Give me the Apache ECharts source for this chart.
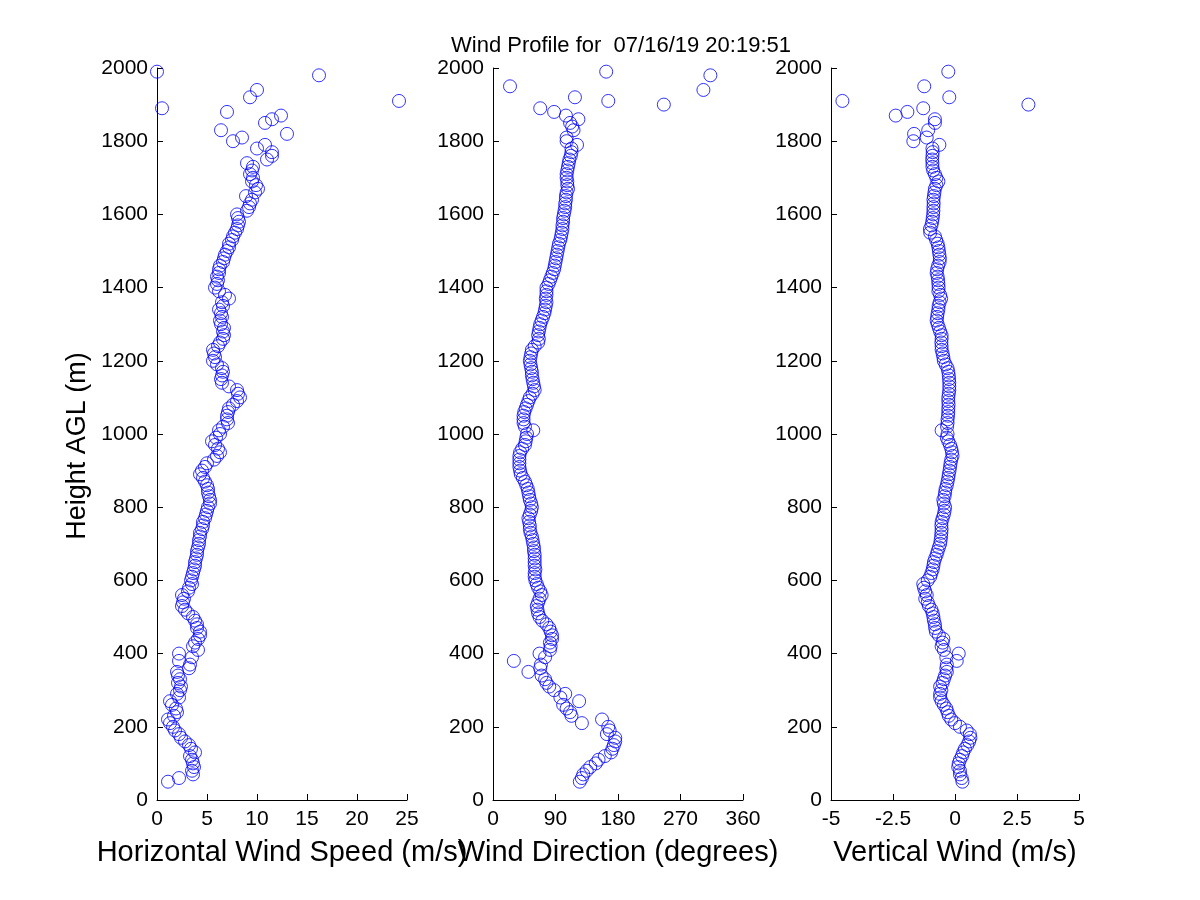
<!DOCTYPE html>
<html>
<head>
<meta charset="utf-8">
<title>Wind Profile</title>
<script src="https://cdn.jsdelivr.net/npm/echarts@6/dist/echarts.min.js"></script>
<style>
  html, body { margin: 0; padding: 0; background: #fff; }
  #chart { width: 1200px; height: 900px; }
</style>
</head>
<body>
<div id="chart"></div>
<script>
// range gates (m AGL)
var heights = [
  50, 60, 70, 80, 90, 100, 110, 120, 130, 140,
  150, 160, 170, 180, 190, 200, 210, 220, 230, 240,
  250, 260, 270, 280, 290, 300, 310, 320, 330, 340,
  350, 360, 370, 380, 390, 400, 410, 420, 430, 440,
  450, 460, 470, 480, 490, 500, 510, 520, 530, 540,
  550, 560, 570, 580, 590, 600, 610, 620, 630, 640,
  650, 660, 670, 680, 690, 700, 710, 720, 730, 740,
  750, 760, 770, 780, 790, 800, 810, 820, 830, 840,
  850, 860, 870, 880, 890, 900, 910, 920, 930, 940,
  950, 960, 970, 980, 990, 1000, 1010, 1020, 1030, 1040,
  1050, 1060, 1070, 1080, 1090, 1100, 1110, 1120, 1130, 1140,
  1150, 1160, 1170, 1180, 1190, 1200, 1210, 1220, 1230, 1240,
  1250, 1260, 1270, 1280, 1290, 1300, 1310, 1320, 1330, 1340,
  1350, 1360, 1370, 1380, 1390, 1400, 1410, 1420, 1430, 1440,
  1450, 1460, 1470, 1480, 1490, 1500, 1510, 1520, 1530, 1540,
  1550, 1560, 1570, 1580, 1590, 1600, 1610, 1620, 1630, 1640,
  1650, 1660, 1670, 1680, 1690, 1700, 1710, 1720, 1730, 1740,
  1750, 1760, 1770, 1780, 1790, 1800, 1810, 1820, 1830, 1840,
  1850, 1860, 1870, 1880, 1890, 1900, 1910, 1920, 1930, 1940,
  1950, 1960, 1970, 1980, 1990
];

// horizontal wind speed (m/s), null = no return
var speed = [
  1.1, 2.2, 3.6, 3.5, 3.7, 3.6, 3.5, 3.3, 3.8, 3.4,
  3.2, 2.8, 2.4, 2.2, 1.8, 1.6, 1.3, 1.1, 1.7, 2.0,
  1.9, 1.5, 1.3, 2.2, 2.0, 2.3, 2.4, 2.1, 2.3, 2.1,
  2.0, 3.2, 3.3, 2.2, 3.5, 2.2, 4.1, 3.6, 3.8, 4.1,
  4.3, 4.3, 4.0, 4.0, 3.8, 3.6, 3.1, 2.8, 2.5, 2.6,
  2.7, 2.5, 3.1, 3.2, 3.5, 3.4, 3.5, 3.6, 3.7, 3.8,
  3.8, 3.9, 4.0, 4.0, 4.1, 4.2, 4.2, 4.3, 4.3, 4.5,
  4.6, 4.6, 4.8, 4.9, 5.0, 5.1, 5.3, 5.3, 5.2, 5.1,
  5.1, 5.0, 4.8, 4.6, 4.3, 4.5, 4.8, 5.0, 5.7, 6.0,
  6.3, 6.1, 5.8, 5.5, 5.9, 6.3, 6.2, 6.6, 7.1, 7.0,
  7.0, 7.1, 7.2, 7.6, 8.0, 8.3, 8.1, 8.0, 7.2, 6.5,
  6.4, 6.5, 6.6, 6.5, 6.0, 5.6, 5.8, 5.7, 5.6, 6.1,
  6.3, 6.6, 6.7, 6.6, 6.7, 6.4, 6.3, 6.5, 6.4, 6.2,
  6.6, 6.5, 7.2, 6.8, 6.2, 5.8, 6.0, 6.1, 6.0, 6.2,
  6.2, 6.3, 6.6, 6.7, 6.8, 7.0, 7.2, 7.2, 7.5, 7.6,
  7.8, 8.0, 8.1, 8.2, 8.1, 8.0, 9.0, 9.2, 9.3, 9.5,
  8.9, 9.8, 10.1, 9.9, 9.5, 9.6, 9.3, 9.5, 9.6, 9.0,
  11.0, 11.5, 11.5, 10.0, 10.8, 7.6, 8.5, 13.0, 6.4, null,
  10.8, 11.5, 12.4, 7.0, 0.5, null, 24.2, 9.3, null, 10.0,
  null, null, null, 16.2, 0.0
];

// wind direction (degrees)
var direction = [
  125, 128, 130, 135, 140, 148, 152, 161, 170, 172,
  174, 176, 176, 164, 168, 166, 128, 157, 113, 111,
  106, 101, 124, 97, 104, 88, 81, 77, 75, 70,
  51, 68, 69, 30, 75, 67, 82, 83, 82, 85,
  85, 83, 81, 77, 71, 67, 65, 64, 63, 65,
  67, 70, 68, 65, 63, 61, 60, 60, 61, 60,
  60, 60, 60, 59, 59, 58, 57, 56, 54, 53,
  53, 52, 51, 53, 55, 56, 55, 53, 52, 51,
  50, 48, 46, 43, 40, 39, 38, 38, 38, 38,
  39, 42, 46, 47, 48, 49, 58, 46, 44, 44,
  44, 45, 47, 49, 51, 53, 57, 60, 59, 58,
  57, 56, 56, 55, 54, 53, 54, 55, 56, 60,
  65, 66, 65, 66, 67, 68, 70, 72, 74, 75,
  76, 77, 76, 77, 77, 77, 80, 82, 84, 86,
  88, 89, 90, 91, 92, 93, 94, 95, 97, 98,
  99, 100, 100, 101, 101, 102, 103, 104, 104, 105,
  105, 106, 108, 107, 107, 106, 106, 107, 108, 109,
  110, 112, 113, 113, 121, 106, 106, null, 116, 114,
  111, 123, 105, 88, 68, 246, 166, 118, null, 303,
  24.5, null, null, 313, 163
];

// vertical wind (m/s)
var vertical = [
  0.30, 0.27, 0.20, 0.20, 0.13, 0.15, 0.20, 0.28, 0.33, 0.40,
  0.50, 0.57, 0.62, 0.60, 0.47, 0.20, 0.00, -0.15, -0.25, -0.30,
  -0.35, -0.45, -0.54, -0.60, -0.60, -0.55, -0.60, -0.50, -0.45, -0.40,
  -0.33, -0.35, -0.33, 0.07, -0.35, 0.15, -0.45, -0.54, -0.50, -0.47,
  -0.65, -0.77, -0.80, -0.81, -0.85, -0.87, -0.90, -0.95, -1.05, -1.10,
  -1.20, -1.14, -1.20, -1.25, -1.28, -1.10, -1.00, -0.95, -0.90, -0.87,
  -0.85, -0.80, -0.74, -0.70, -0.65, -0.60, -0.58, -0.56, -0.55, -0.54,
  -0.55, -0.54, -0.50, -0.45, -0.42, -0.40, -0.45, -0.47, -0.42, -0.40,
  -0.38, -0.33, -0.30, -0.27, -0.25, -0.22, -0.20, -0.18, -0.15, -0.10,
  -0.12, -0.15, -0.20, -0.27, -0.33, -0.30, -0.54, -0.32, -0.30, -0.30,
  -0.28, -0.27, -0.27, -0.26, -0.27, -0.27, -0.25, -0.23, -0.23, -0.23,
  -0.24, -0.25, -0.27, -0.30, -0.38, -0.45, -0.47, -0.50, -0.54, -0.54,
  -0.55, -0.54, -0.54, -0.60, -0.65, -0.70, -0.74, -0.72, -0.70, -0.67,
  -0.66, -0.62, -0.56, -0.60, -0.67, -0.66, -0.67, -0.68, -0.70, -0.74,
  -0.72, -0.68, -0.62, -0.61, -0.63, -0.65, -0.67, -0.70, -0.76, -0.81,
  -1.00, -1.01, -0.95, -0.92, -0.90, -0.88, -0.87, -0.87, -0.86, -0.87,
  -0.85, -0.83, -0.81, -0.75, -0.67, -0.75, -0.81, -0.88, -0.91, -0.91,
  -0.92, -0.91, -0.90, -0.91, -0.63, -1.68, -1.14, -1.65, -1.08, null,
  -0.81, -0.81, -2.39, -1.92, -1.28, 2.96, -4.54, -0.23, null, null,
  -1.24, null, null, null, -0.27
];

var speedTicks = { min: 0, max: 25, interval: 5 };
var dirTicks = { min: 0, max: 360, interval: 90 };
var vertTicks = { min: -5, max: 5, interval: 2.5 };

var FONT = 'Liberation Sans';

function pairs(vals) {
  var out = [];
  for (var i = 0; i < heights.length; i++) {
    if (vals[i] !== null) out.push([vals[i], heights[i]]);
  }
  return out;
}

// plain numbers, no thousands separator
function plain(v) { return String(v); }

function xAxis(idx, ticks, name) {
  return {
    type: 'value',
    gridIndex: idx,
    min: ticks.min,
    max: ticks.max,
    interval: ticks.interval,
    name: name,
    nameLocation: 'middle',
    nameGap: 38,
    nameTextStyle: { color: '#000', fontFamily: FONT, fontSize: 29 },
    axisLine: { show: true, onZero: false, lineStyle: { color: '#000', width: 1 } },
    axisTick: { show: true, inside: true, length: 6, lineStyle: { color: '#000' } },
    axisLabel: { color: '#000', fontFamily: FONT, fontSize: 21, margin: 9, formatter: plain },
    splitLine: { show: false }
  };
}

function yAxis(idx) {
  return {
    type: 'value',
    gridIndex: idx,
    min: 0,
    max: 2000,
    interval: 200,
    axisLine: { show: true, onZero: false, lineStyle: { color: '#000', width: 1 } },
    axisTick: { show: true, inside: true, length: 6, lineStyle: { color: '#000' } },
    axisLabel: { color: '#000', fontFamily: FONT, fontSize: 21, margin: 9, formatter: plain },
    splitLine: { show: false }
  };
}

function series(idx, vals) {
  return {
    type: 'scatter',
    xAxisIndex: idx,
    yAxisIndex: idx,
    data: pairs(vals),
    symbol: 'circle',
    symbolSize: 13,
    clip: false,
    silent: true,
    itemStyle: { color: 'rgba(0,0,0,0)', borderColor: '#0000ff', borderWidth: 1 }
  };
}

var chart = echarts.init(document.getElementById('chart'));
chart.setOption({
  backgroundColor: '#fff',
  animation: false,
  title: {
    text: 'Wind Profile for  07/16/19 20:19:51',
    left: 616,
    top: 30,
    textAlign: 'center',
    textStyle: { color: '#000', fontFamily: FONT, fontSize: 22, fontWeight: 'normal' }
  },
  graphic: [{
    type: 'text',
    x: 78,
    y: 446,
    rotation: Math.PI / 2,
    style: {
      text: 'Height AGL (m)',
      fill: '#000',
      font: '27px "Liberation Sans"',
      align: 'center',
      verticalAlign: 'middle'
    }
  }],
  grid: [
    { left: 157, top: 68, width: 250, height: 732 },
    { left: 493, top: 68, width: 250, height: 732 },
    { left: 831, top: 68, width: 248, height: 732 }
  ],
  xAxis: [
    xAxis(0, speedTicks, 'Horizontal Wind Speed (m/s)'),
    xAxis(1, dirTicks, 'Wind Direction (degrees)'),
    xAxis(2, vertTicks, 'Vertical Wind (m/s)')
  ],
  yAxis: [yAxis(0), yAxis(1), yAxis(2)],
  series: [
    series(0, speed),
    series(1, direction),
    series(2, vertical)
  ]
});
</script>
</body>
</html>
